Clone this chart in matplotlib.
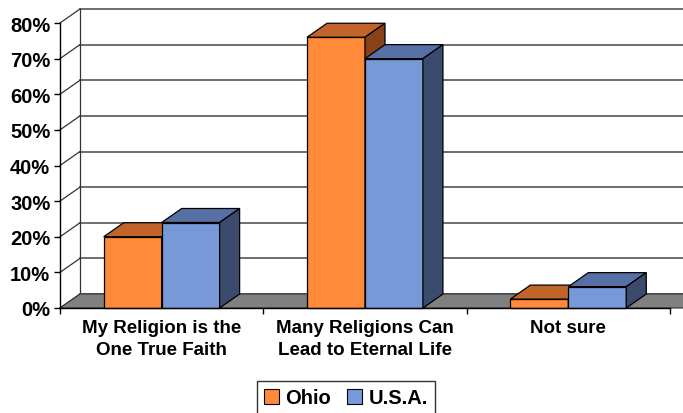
import matplotlib
matplotlib.use("Agg")
import matplotlib.pyplot as plt
from matplotlib.patches import Polygon
import numpy as np

# data
categories = ["My Religion is the\nOne True Faith",
              "Many Religions Can\nLead to Eternal Life",
              "Not sure"]
ohio = [20, 76, 2.5]
usa = [24, 70, 6]
series_names = ["Ohio", "U.S.A."]
yticks = [0, 10, 20, 30, 40, 50, 60, 70, 80]

plt.rcParams['font.family'] = ['Liberation Sans', 'DejaVu Sans']

W, H = 683, 414
fig = plt.figure(figsize=(W / 100, H / 100), dpi=100)
# front plane of the 3d box, in pixels
x0, x1 = 60, 670
y0, y1 = 309, 24
ax = fig.add_axes([x0 / W, (H - y0) / H, (x1 - x0) / W, (y0 - y1) / H])
ax.set_xlim(0, 3)
ax.set_ylim(0, 80)

# depth offset (pixels -> data units)
ddx = 20 / (x1 - x0) * 3
ddy = 14 / (y0 - y1) * 80

for s in ax.spines.values():
    s.set_visible(False)

# back wall gridlines + left wall diagonals
for t in yticks:
    ax.plot([ddx, 3.2], [t + ddy, t + ddy], color="#555555", lw=1.2,
            clip_on=False, zorder=1)
    ax.plot([0, ddx], [t, t + ddy], color="#333333", lw=0.9,
            clip_on=False, zorder=1)
ax.plot([ddx, ddx], [ddy, 80 + ddy], color="#333333", lw=0.9, clip_on=False, zorder=1)

# floor
floor = Polygon([[0, 0], [3.2, 0], [3.2 + ddx, ddy], [ddx, ddy]], closed=True,
                facecolor="#808080", edgecolor="#333333", lw=0.8, clip_on=False, zorder=2)
ax.add_patch(floor)

# bars
bw = 0.285
styles = [("#FF8A3A", "#C0642A", "#884218"),
          ("#7799D8", "#5670A6", "#3A4B6E")]
for i in range(len(categories)):
    for j, vals in enumerate([ohio, usa]):
        left = i + 0.5 - bw + j * bw
        right = left + bw
        v = vals[i]
        front, top, side = styles[j]
        kw = dict(closed=True, edgecolor="black", lw=0.9, clip_on=False, zorder=3 + j)
        ax.add_patch(Polygon([[left, 0], [right, 0], [right, v], [left, v]],
                             facecolor=front, **kw))
        ax.add_patch(Polygon([[left, v], [right, v], [right + ddx, v + ddy], [left + ddx, v + ddy]],
                             facecolor=top, **kw))
        ax.add_patch(Polygon([[right, 0], [right + ddx, ddy], [right + ddx, v + ddy], [right, v]],
                             facecolor=side, **kw))

# front axis
ax.plot([0, 0], [0, 80], color="black", lw=1, clip_on=False, zorder=6)
ax.plot([0, 3], [0, 0], color="black", lw=1, clip_on=False, zorder=6)

ax.set_yticks(yticks)
ax.set_yticklabels(["%d%%" % t for t in yticks], fontsize=14.5, fontweight="bold")
ax.tick_params(axis="y", length=4, width=1, pad=3)
ax.set_xticks([0, 1, 2, 3], minor=True)
ax.set_xticks([0.5, 1.5, 2.5])
ax.set_xticklabels(categories, fontsize=13.5, fontweight="bold", linespacing=1.4)
ax.tick_params(axis="x", which="major", length=0, pad=8)
ax.tick_params(axis="x", which="minor", length=4, width=1)

# legend
handles = [plt.Rectangle((0, 0), 1, 1, facecolor=styles[k][0], edgecolor="black", lw=0.8)
           for k in range(2)]
leg = fig.legend(handles, series_names, loc="center", bbox_to_anchor=(346 / W, (H - 399) / H),
                 ncol=2, frameon=True, fancybox=False, edgecolor="black",
                 prop={"weight": "bold", "size": 14.5}, handlelength=0.75, handleheight=0.75,
                 handletextpad=0.3, columnspacing=0.8, borderpad=0.35)
leg.get_frame().set_linewidth(1)

fig.savefig("out.png", dpi=100)
